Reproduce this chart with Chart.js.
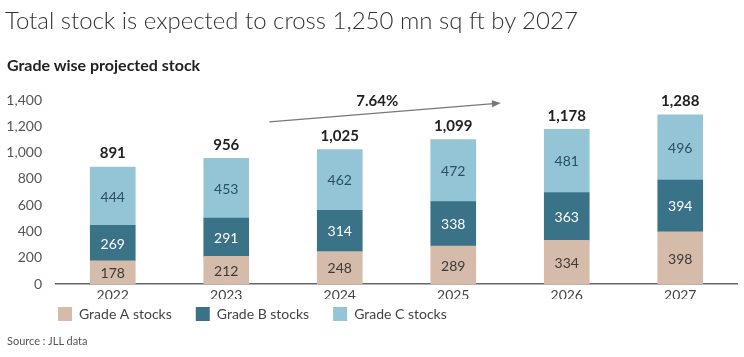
<!DOCTYPE html>
<html>
<head>
<meta charset="utf-8">
<script src="https://cdn.jsdelivr.net/npm/chart.js@4"></script>
<style>
  html, body { margin:0; padding:0; background:#fff; }
  body { width:744px; height:357px; position:relative; overflow:hidden; font-family: Lato, "Open Sans", sans-serif; }
  #title { position:absolute; left:5px; top:5px; font-size:24px; font-weight:300; color:#333; white-space:nowrap; }
  #subtitle { position:absolute; left:7px; top:55px; font-size:16px; font-weight:700; color:#222; white-space:nowrap; }
  #source { position:absolute; left:7px; top:334px; font-size:11px; color:#555; white-space:nowrap; }
  #wrap { position:absolute; left:0; top:0; width:744px; height:347px; }
</style>
</head>
<body>
<div id="wrap"><canvas id="c" width="744" height="347"></canvas></div>
<div id="title">Total stock is expected to cross 1,250 mn sq ft by 2027</div>
<div id="subtitle">Grade wise projected stock</div>
<div id="source">Source : JLL data</div>
<script>
const categories = ['2022', '2023', '2024', '2025', '2026', '2027'];
const gradeA = [178, 212, 248, 289, 334, 398];
const gradeB = [269, 291, 314, 338, 363, 394];
const gradeC = [444, 453, 462, 472, 481, 496];
const totals = [891, 956, 1025, 1099, 1178, 1288];
const seriesNames = ['Grade A stocks', 'Grade B stocks', 'Grade C stocks'];
const yTicks = [0, 200, 400, 600, 800, 1000, 1200, 1400];
const cagrLabel = '7.64%';

const FONT = 'Lato, "Open Sans", sans-serif';

// arrow annotation anchors (category index offsets, value)
const arrowFrom = { idx: 1.38, val: 1233 };
const arrowTo = { idx: 3.42, val: 1377 };
const cagrPos = { idx: 2.33, val: 1388 };

const labelsPlugin = {
  id: 'barLabels',
  afterDatasetsDraw(chart) {
    const ctx = chart.ctx;
    const colors = ['#3a3a3a', '#ffffff', '#2c4f60'];
    ctx.save();
    ctx.textAlign = 'center';
    ctx.textBaseline = 'middle';
    chart.data.datasets.forEach((ds, di) => {
      const meta = chart.getDatasetMeta(di);
      meta.data.forEach((bar, i) => {
        const mid = (bar.y + bar.base) / 2;
        ctx.font = '14px ' + FONT;
        ctx.fillStyle = colors[di];
        ctx.fillText(ds.data[i].toLocaleString('en-US'), bar.x, mid + 1);
      });
    });
    const top = chart.getDatasetMeta(chart.data.datasets.length - 1);
    ctx.font = 'bold 15px ' + FONT;
    ctx.fillStyle = '#222';
    ctx.textBaseline = 'bottom';
    top.data.forEach((bar, i) => {
      ctx.fillText(totals[i].toLocaleString('en-US'), bar.x, bar.y - 6);
    });

    // CAGR arrow
    const xs = chart.scales.x, ys = chart.scales.y;
    const px = (idx) => {
      const f = Math.floor(idx);
      const a = xs.getPixelForValue(f), b = xs.getPixelForValue(f + 1);
      return a + (b - a) * (idx - f);
    };
    const x1 = px(arrowFrom.idx), y1 = ys.getPixelForValue(arrowFrom.val);
    const x2 = px(arrowTo.idx), y2 = ys.getPixelForValue(arrowTo.val);
    ctx.strokeStyle = '#777';
    ctx.fillStyle = '#777';
    ctx.lineWidth = 1.3;
    const ang = Math.atan2(y2 - y1, x2 - x1);
    const hl = 9;
    ctx.beginPath();
    ctx.moveTo(x1, y1);
    ctx.lineTo(x2 - hl * Math.cos(ang) * 0.8, y2 - hl * Math.sin(ang) * 0.8);
    ctx.stroke();
    ctx.beginPath();
    ctx.moveTo(x2, y2);
    ctx.lineTo(x2 - hl * Math.cos(ang) + 3.5 * Math.sin(ang), y2 - hl * Math.sin(ang) - 3.5 * Math.cos(ang));
    ctx.lineTo(x2 - hl * Math.cos(ang) - 3.5 * Math.sin(ang), y2 - hl * Math.sin(ang) + 3.5 * Math.cos(ang));
    ctx.closePath();
    ctx.fill();
    ctx.font = 'bold 15px ' + FONT;
    ctx.fillStyle = '#222';
    ctx.textBaseline = 'middle';
    ctx.fillText(cagrLabel, px(cagrPos.idx), ys.getPixelForValue(cagrPos.val));
    ctx.restore();
  }
};

const legendShift = {
  id: 'legendShift',
  afterLayout(chart) {
    const lg = chart.legend;
    if (lg) { lg.left += 34; lg.right += 34; lg.top -= 16; lg.bottom -= 16; }
  }
};

new Chart(document.getElementById('c'), {
  type: 'bar',
  data: {
    labels: categories,
    datasets: [
      { label: seriesNames[0], data: gradeA, backgroundColor: '#d5bba9' },
      { label: seriesNames[1], data: gradeB, backgroundColor: '#3a7288' },
      { label: seriesNames[2], data: gradeC, backgroundColor: '#94c5d6' }
    ]
  },
  options: {
    responsive: false,
    animation: false,
    devicePixelRatio: 1,
    layout: { padding: { top: 100, right: 7, bottom: 0, left: 0 } },
    datasets: { bar: { barThickness: 45 } },
    scales: {
      x: {
        stacked: true,
        grid: { display: false },
        border: { display: true, color: '#666', width: 1.5 },
        ticks: { color: '#444', font: { family: FONT, size: 14 }, padding: -5 }
      },
      y: {
        stacked: true,
        min: 0, max: 1400,
        afterFit(scale) { scale.width = 56; },
        afterBuildTicks(scale) { scale.ticks = yTicks.map(v => ({ value: v })); },
        grid: { display: false },
        border: { display: false },
        ticks: {
          color: '#555', font: { family: FONT, size: 14 }, padding: 6,
          callback: (v) => v.toLocaleString('en-US')
        }
      }
    },
    plugins: {
      legend: {
        position: 'bottom', align: 'start',
        labels: {
          boxWidth: 14, boxHeight: 14, color: '#444', padding: 24,
          font: { family: FONT, size: 14 }
        }
      },
      tooltip: { enabled: false }
    }
  },
  plugins: [labelsPlugin, legendShift]
});
</script>
</body>
</html>
